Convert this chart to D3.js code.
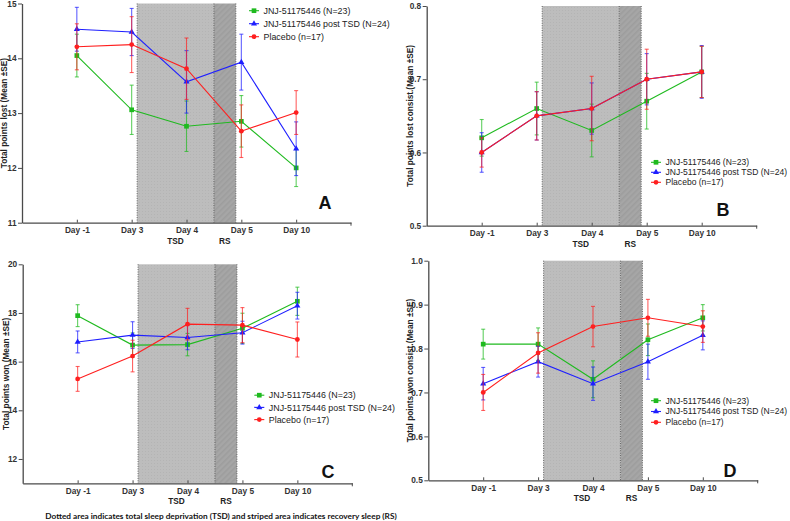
<!DOCTYPE html>
<html><head><meta charset="utf-8">
<script src="https://cdn.jsdelivr.net/npm/d3@7"></script>
<style>body{margin:0;background:#fff} svg{display:block}</style>
</head><body>
<script>
// ---------- DATA ----------
const days = ["Day -1", "Day 3", "Day 4", "Day 5", "Day 10"];
const seriesNames = ["JNJ-51175446 (N=23)", "JNJ-51175446 post TSD (N=24)", "Placebo (n=17)"];
const footnote = "Dotted area indicates total sleep deprivation (TSD) and striped area indicates recovery sleep (RS)";

// Panel A: Total points lost
const aJnjMean  = [14.05, 13.06, 12.76, 12.85, 12.00];
const aJnjSE    = [0.39, 0.45, 0.46, 0.47, 0.34];
const aPostMean = [14.53, 14.48, 13.57, 13.93, 12.35];
const aPostSE   = [0.40, 0.43, 0.57, 0.51, 0.49];
const aPlaMean  = [14.21, 14.25, 13.81, 12.67, 13.01];
const aPlaSE    = [0.42, 0.51, 0.56, 0.48, 0.40];
const aTicks    = [11, 12, 13, 14, 15];

// Panel B: Total points lost consist.
const bJnjMean  = [0.62, 0.66, 0.63, 0.67, 0.71];
const bJnjSE    = [0.025, 0.036, 0.036, 0.038, 0.035];
const bPostMean = [0.60, 0.65, 0.66, 0.70, 0.71];
const bPostSE   = [0.027, 0.033, 0.035, 0.035, 0.036];
const bPlaMean  = [0.60, 0.65, 0.66, 0.70, 0.71];
const bPlaSE    = [0.020, 0.033, 0.044, 0.041, 0.035];
const bTicks    = [0.5, 0.6, 0.7, 0.8];

// Panel C: Total points won
const cJnjMean  = [17.89, 16.68, 16.70, 17.37, 18.48];
const cJnjSE    = [0.45, 0.50, 0.46, 0.62, 0.58];
const cPostMean = [16.81, 17.09, 16.99, 17.19, 18.30];
const cPostSE   = [0.45, 0.55, 0.50, 0.47, 0.55];
const cPlaMean  = [15.29, 16.23, 17.54, 17.50, 16.91];
const cPlaSE    = [0.51, 0.65, 0.65, 0.72, 0.72];
const cTicks    = [12, 14, 16, 18, 20];

// Panel D: Total points won consist.
const dJnjMean  = [0.81, 0.81, 0.73, 0.82, 0.87];
const dJnjSE    = [0.034, 0.037, 0.042, 0.036, 0.030];
const dPostMean = [0.72, 0.77, 0.72, 0.77, 0.83];
const dPostSE   = [0.037, 0.035, 0.038, 0.040, 0.033];
const dPlaMean  = [0.70, 0.79, 0.85, 0.87, 0.85];
const dPlaSE    = [0.041, 0.046, 0.046, 0.042, 0.036];
const dTicks    = [0.5, 0.6, 0.7, 0.8, 0.9, 1.0];

// shaded periods in category-step units
const tsdStart = 2.1, tsdEnd = 3.5, rsEnd = 3.9;

// ---------- STYLE / LAYOUT ----------
const colors = ["#1fba1f", "#1f1fff", "#ff1f1f"];
const font = "'Liberation Sans', Arial, sans-serif";
const W = 790, H = 521;

const panels = [
  {x0:22, x1:351, yTop:3.5, yBot:222.7, domain:[11,15], ticks:aTicks, fmt:d3.format("d"),
   title:"Total points lost (Mean ±SE)", tx:4.5, letter:"A", lx:325, ly:209,
   legX:254, legY:10.7, legDy:13, legFs:8.9, means:[aJnjMean,aPostMean,aPlaMean], ses:[aJnjSE,aPostSE,aPlaSE]},
  {x0:426.7, x1:756.7, yTop:6, yBot:225.7, domain:[0.5,0.8], ticks:bTicks, fmt:d3.format(".1f"),
   title:"Total points lost consist.(Mean ±SE)", tx:409.7, letter:"B", lx:723, ly:216,
   legX:656, legY:162.3, legDy:10, legFs:8.55, means:[bJnjMean,bPostMean,bPlaMean], ses:[bJnjSE,bPostSE,bPlaSE]},
  {x0:22.7, x1:352.3, yTop:264.3, yBot:483.3, domain:[11,20], ticks:cTicks, fmt:d3.format("d"),
   title:"Total points won (Mean ±SE)", tx:6, letter:"C", lx:328, ly:477.5,
   legX:259.3, legY:395.2, legDy:12.2, legFs:8.9, means:[cJnjMean,cPostMean,cPlaMean], ses:[cJnjSE,cPostSE,cPlaSE]},
  {x0:428.3, x1:757.7, yTop:260.7, yBot:480.3, domain:[0.5,1.0], ticks:dTicks, fmt:d3.format(".1f"),
   title:"Total points won consist.(Mean ±SE)", tx:410.3, letter:"D", lx:730, ly:476.5,
   legX:656, legY:400.7, legDy:10.8, legFs:8.55, means:[dJnjMean,dPostMean,dPlaMean], ses:[dJnjSE,dPostSE,dPlaSE]}
];

const svg = d3.select("body").append("svg").attr("width", W).attr("height", H)
  .style("font-family", font);

const defs = svg.append("defs");
const pd = defs.append("pattern").attr("id","dots").attr("width",3).attr("height",3)
  .attr("patternUnits","userSpaceOnUse");
pd.append("rect").attr("width",3).attr("height",3).attr("fill","#bdbdbd");
pd.append("rect").attr("x",1).attr("y",1).attr("width",1).attr("height",1).attr("fill","#b4b4b4");
const ps = defs.append("pattern").attr("id","stripes").attr("width",4).attr("height",4)
  .attr("patternUnits","userSpaceOnUse").attr("patternTransform","rotate(45)");
ps.append("rect").attr("width",4).attr("height",4).attr("fill","#a6a6a6");
ps.append("rect").attr("width",1.5).attr("height",4).attr("fill","#9d9d9d");

const markerSyms = [d3.symbolSquare, d3.symbolTriangle, d3.symbolCircle];
const markerSizes = [22, 16, 18];

function drawPanel(p) {
  const g = svg.append("g");
  const x = d3.scalePoint().domain(days).range([p.x0, p.x1]).padding(1);
  const step = x.step();
  const kx = k => p.x0 + step * k;
  const y = d3.scaleLinear().domain(p.domain).range([p.yBot, p.yTop]);

  // shading
  g.append("rect").attr("x", kx(tsdStart)).attr("y", p.yTop)
    .attr("width", kx(tsdEnd) - kx(tsdStart)).attr("height", p.yBot - p.yTop)
    .attr("fill", "url(#dots)");
  g.append("rect").attr("x", kx(tsdEnd)).attr("y", p.yTop)
    .attr("width", kx(rsEnd) - kx(tsdEnd)).attr("height", p.yBot - p.yTop)
    .attr("fill", "url(#stripes)");
  [tsdStart, tsdEnd, rsEnd].forEach(k => {
    g.append("line").attr("x1", kx(k)).attr("x2", kx(k)).attr("y1", p.yTop).attr("y2", p.yBot)
      .attr("stroke", "#555").attr("stroke-width", 0.9).attr("stroke-dasharray", "1,1.4");
  });

  // axes
  const ya = g.append("g").attr("transform", `translate(${p.x0},0)`)
    .call(d3.axisLeft(y).tickValues(p.ticks).tickFormat(p.fmt).tickSize(4).tickSizeOuter(0).tickPadding(1.5));
  const xa = g.append("g").attr("transform", `translate(0,${p.yBot})`)
    .call(d3.axisBottom(x).tickSize(-3).tickSizeOuter(0).tickPadding(4.5));
  [ya, xa].forEach(a => {
    a.select(".domain").attr("stroke", "#4a4a4a").attr("stroke-width", 1.3);
    a.selectAll(".tick line").attr("stroke", "#4a4a4a").attr("stroke-width", 1);
    a.selectAll("text").attr("font-family", font).attr("font-size", 8.3)
      .attr("font-weight", "bold").attr("fill", "#333");
  });
  g.append("line").attr("x1", p.x1).attr("x2", p.x1).attr("y1", p.yBot).attr("y2", p.yBot + 3)
    .attr("stroke", "#4a4a4a");

  // TSD / RS labels
  g.append("text").attr("x", kx((tsdStart + tsdEnd) / 2)).attr("y", p.yBot + 21)
    .attr("text-anchor", "middle").attr("font-size", 8.3).attr("font-weight", "bold").attr("fill", "#222").text("TSD");
  g.append("text").attr("x", kx((tsdEnd + rsEnd) / 2)).attr("y", p.yBot + 21)
    .attr("text-anchor", "middle").attr("font-size", 8.3).attr("font-weight", "bold").attr("fill", "#222").text("RS");

  // series
  const line = d3.line().x((d, i) => x(days[i])).y(d => y(d));
  p.means.forEach((m, s) => {
    const se = p.ses[s];
    const col = colors[s];
    const sg = g.append("g");
    m.forEach((v, i) => {
      const cx = x(days[i]);
      const eg = sg.append("g").attr("stroke", col).attr("stroke-opacity", 0.7).attr("stroke-width", 1.1);
      eg.append("line").attr("x1", cx).attr("x2", cx).attr("y1", y(v - se[i])).attr("y2", y(v + se[i]));
      eg.append("line").attr("x1", cx - 2).attr("x2", cx + 2).attr("y1", y(v - se[i])).attr("y2", y(v - se[i]));
      eg.append("line").attr("x1", cx - 2).attr("x2", cx + 2).attr("y1", y(v + se[i])).attr("y2", y(v + se[i]));
    });
    sg.append("path").datum(m).attr("d", line).attr("fill", "none")
      .attr("stroke", col).attr("stroke-width", 1.1);
    sg.selectAll("path.mk").data(m).join("path").attr("class", "mk")
      .attr("transform", (d, i) => `translate(${x(days[i])},${y(d)})`)
      .attr("d", d3.symbol(markerSyms[s], markerSizes[s])).attr("fill", col);
  });

  // legend
  seriesNames.forEach((name, s) => {
    const ly = p.legY + s * p.legDy;
    g.append("line").attr("x1", p.legX - 5).attr("x2", p.legX + 5).attr("y1", ly).attr("y2", ly)
      .attr("stroke", colors[s]).attr("stroke-width", 1.1);
    g.append("path").attr("transform", `translate(${p.legX},${ly})`)
      .attr("d", d3.symbol(markerSyms[s], markerSizes[s])).attr("fill", colors[s]);
    g.append("text").attr("x", p.legX + 9.5).attr("y", ly).attr("dy", "0.35em")
      .attr("font-size", p.legFs).attr("fill", "#222").text(name);
  });

  // letter
  g.append("text").attr("x", p.lx).attr("y", p.ly).attr("text-anchor", "middle")
    .attr("font-size", 18).attr("font-weight", "bold").attr("fill", "#111").text(p.letter);

  // y title
  g.append("text").attr("transform", `translate(${p.tx},${(p.yTop + p.yBot) / 2}) rotate(-90)`)
    .attr("text-anchor", "middle").attr("dy", "0.35em").attr("font-size", 8.3)
    .attr("font-weight", "bold").attr("fill", "#222").text(p.title);
}

panels.forEach(drawPanel);

// footnote
const fn = svg.append("text").attr("x", 221).attr("y", 516.5).attr("text-anchor", "middle")
  .attr("dy", "0.35em").attr("font-family", "Lato, 'Open Sans', sans-serif")
  .attr("font-weight", "bold").attr("fill", "#111").attr("font-size", 10).text(footnote);
const wNow = fn.node().getComputedTextLength();
fn.attr("font-size", 10 * 352 / wNow);
</script>
</body></html>
